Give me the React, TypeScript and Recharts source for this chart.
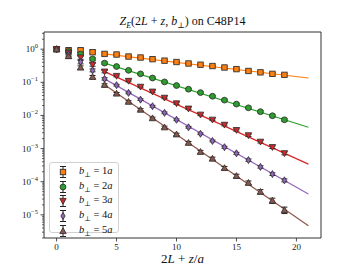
import React from 'react';
import { ComposedChart, Line, XAxis, YAxis, ErrorBar, ReferenceArea } from 'recharts';

const xs = [0, 1, 2, 3, 4, 5, 6, 7, 8, 9, 10, 11, 12, 13, 14, 15, 16, 17, 18, 19];

const b1 = [1.0, 0.93, 0.93, 0.81, 0.72, 0.69, 0.6, 0.56, 0.5, 0.45, 0.41, 0.37, 0.34, 0.31, 0.28, 0.25, 0.22, 0.2, 0.18, 0.168];
const b2 = [1.0, 0.86, 0.71, 0.51, 0.38, 0.3, 0.23, 0.18, 0.135, 0.103, 0.08, 0.062, 0.049, 0.038, 0.029, 0.022, 0.017, 0.013, 0.0098, 0.0074];
const b3 = [1.0, 0.78, 0.56, 0.34, 0.21, 0.155, 0.11, 0.073, 0.052, 0.034, 0.023, 0.016, 0.0105, 0.0074, 0.0052, 0.0036, 0.0025, 0.0016, 0.0011, 0.00072];
const b4 = [1.0, 0.7, 0.41, 0.23, 0.127, 0.082, 0.048, 0.03, 0.019, 0.012, 0.0074, 0.0044, 0.0028, 0.0017, 0.0011, 0.00072, 0.00045, 0.00028, 0.00017, 0.00011];
const b5 = [1.0, 0.62, 0.28, 0.146, 0.084, 0.046, 0.026, 0.015, 0.0083, 0.0044, 0.0027, 0.0015, 0.0008, 0.0005, 0.00026, 0.00015, 0.000093, 0.00005, 0.000027, 0.000014];

// relative errors
const relErr = [0.15, 0.15, 0.12, 0.1, 0.08, 0.06, 0.06, 0.06, 0.06, 0.06, 0.06, 0.06, 0.06, 0.06, 0.07, 0.07, 0.08, 0.08, 0.09, 0.1];
const relErrB5 = [0.15, 0.15, 0.12, 0.1, 0.08, 0.07, 0.07, 0.07, 0.07, 0.08, 0.08, 0.09, 0.1, 0.1, 0.11, 0.12, 0.13, 0.15, 0.18, 0.22];

// fit lines (straight in log space), from x=4 to x=21
const fitX = [4, 21];
const fit1 = [0.72, 0.135];
const fit2 = [0.38, 0.0044];
const fit3 = [0.21, 0.00034];
const fit4 = [0.127, 0.0000428];
const fit5 = [0.084, 0.0000047];

const xTicks = [0, 5, 10, 15, 20];
const yMajor = [1, 0.1, 0.01, 0.001, 0.0001, 0.00001];
const yExp = ['0', '\u22121', '\u22122', '\u22123', '\u22124', '\u22125'];

const colors = ['#ff7f0e', '#2ca02c', '#d62728', '#9467bd', '#8c564b'];
const shapes = ['square', 'circle', 'tridown', 'diamond', 'triup'];
const labels = ['1', '2', '3', '4', '5'];

const series = [b1, b2, b3, b4, b5];
const fits = [fit1, fit2, fit3, fit4, fit5];

const rows: any[] = xs.map((x, i) => {
  const r: any = { x };
  series.forEach((s, k) => {
    r['p' + k] = s[i];
    const re = k === 4 ? relErrB5[i] : relErr[i];
    r['e' + k] = s[i] * re;
  });
  return r;
});
rows.push({ x: 21 });
fitX.forEach((fx, j) => {
  const row = rows.find((r) => r.x === fx);
  fits.forEach((f, k) => {
    row['f' + k] = f[j];
  });
});

const minorTicks: number[] = [];
[1, 0.1, 0.01, 0.001, 0.0001, 0.00001, 0.000001].forEach((d) => {
  for (let m = 2; m <= 9; m++) {
    const v = d * m;
    if (v >= 2e-6 && v <= 3.3) minorTicks.push(v);
  }
});
const allYTicks = [...yMajor, ...minorTicks].sort((a, b) => a - b);

function Marker({ cx, cy, shape, color }: { cx: number; cy: number; shape: string; color: string }) {
  const st = { fill: color, stroke: '#333', strokeWidth: 0.9 };
  if (shape === 'square') return <rect x={cx - 2.7} y={cy - 2.7} width={5.4} height={5.4} {...st} />;
  if (shape === 'circle') return <circle cx={cx} cy={cy} r={2.9} {...st} />;
  if (shape === 'tridown')
    return <polygon points={`${cx - 3.2},${cy - 2.6} ${cx + 3.2},${cy - 2.6} ${cx},${cy + 3.2}`} {...st} />;
  if (shape === 'triup')
    return <polygon points={`${cx - 3.2},${cy + 2.6} ${cx + 3.2},${cy + 2.6} ${cx},${cy - 3.2}`} {...st} />;
  return <polygon points={`${cx},${cy - 3.5} ${cx + 2.1},${cy} ${cx},${cy + 3.5} ${cx - 2.1},${cy}`} {...st} />;
}

const YTick = (props: any) => {
  const { x, y, payload } = props;
  const v = payload.value;
  const mi = yMajor.findIndex((m) => Math.abs(m - v) / m < 1e-6);
  if (mi < 0) {
    return <line x1={x - 2} x2={x} y1={y} y2={y} stroke="#222" strokeWidth={0.7} />;
  }
  return (
    <g>
      <line x1={x - 3.5} x2={x} y1={y} y2={y} stroke="#222" strokeWidth={0.8} />
      <text x={x - 6} y={y + 3} textAnchor="end" fontSize={9} fontFamily="Liberation Serif" fill="#222">
        10
        <tspan dy={-4} fontSize={6.5}>{yExp[mi]}</tspan>
      </text>
    </g>
  );
};

const XTick = (props: any) => {
  const { x, y, payload } = props;
  return (
    <g>
      <line x1={x} x2={x} y1={y} y2={y + 3.5} stroke="#222" strokeWidth={0.8} />
      <text x={x} y={y + 12} textAnchor="middle" fontSize={9} fontFamily="Liberation Serif" fill="#222">
        {payload.value}
      </text>
    </g>
  );
};

function LegendIcon({ k }: { k: number }) {
  return (
    <svg width={12} height={14} style={{ display: 'block' }}>
      <line x1={6} x2={6} y1={1.5} y2={12.5} stroke="#222" strokeWidth={1} />
      <line x1={3} x2={9} y1={1.5} y2={1.5} stroke="#222" strokeWidth={1} />
      <line x1={3} x2={9} y1={12.5} y2={12.5} stroke="#222" strokeWidth={1} />
      <Marker cx={6} cy={7} shape={shapes[k]} color={colors[k]} />
    </svg>
  );
}

export default function App() {
  const serif = 'Liberation Serif, DejaVu Serif, serif';
  return (
    <div style={{ position: 'absolute', left: 0, top: 0, width: 357, height: 268, background: '#fff', fontFamily: serif }}>
      <div style={{ position: 'absolute', left: 44, width: 277, top: 14, textAlign: 'center', fontSize: 12, color: '#111', whiteSpace: 'nowrap' }}>
        <i>Z</i><sub style={{ fontSize: 8 }}><i>E</i></sub>(2<i>L</i> + <i>z</i>, <i>b</i><sub style={{ fontSize: 8 }}>⊥</sub>) on C48P14
      </div>
      <ComposedChart width={357} height={268} data={rows} margin={{ top: 32, right: 36, left: 0, bottom: 0 }}>
        <XAxis
          dataKey="x"
          type="number"
          domain={[-1.05, 22.05]}
          ticks={xTicks}
          allowDataOverflow
          height={30}
          tickLine={false}
          tickSize={0}
          tickMargin={0}
          axisLine={false}
          tick={<XTick />}
          interval={0}
        />
        <YAxis
          type="number"
          scale="log"
          domain={[2e-6, 3.3]}
          ticks={allYTicks}
          allowDataOverflow
          width={44}
          tickLine={false}
          tickSize={0}
          tickMargin={0}
          axisLine={false}
          tick={<YTick />}
          interval={0}
        />
        {fits.map((_, k) => (
          <Line
            key={'f' + k}
            dataKey={'f' + k}
            stroke={colors[k]}
            strokeWidth={1.2}
            dot={false}
            connectNulls
            isAnimationActive={false}
          />
        ))}
        {series.map((_, k) => (
          <Line
            key={'p' + k}
            dataKey={'p' + k}
            stroke="none"
            isAnimationActive={false}
            dot={(props: any) => {
              const { cx, cy, index } = props;
              if (cx == null || cy == null || props.value == null) return <g key={'d' + k + '-' + index} />;
              return (
                <g key={'d' + k + '-' + index}>
                  <Marker cx={cx} cy={cy} shape={shapes[k]} color={colors[k]} />
                </g>
              );
            }}
            activeDot={false}
          >
            <ErrorBar dataKey={'e' + k} width={3} stroke="#222" strokeWidth={1} direction="y" />
          </Line>
        ))}
        <ReferenceArea x1={-1.05} x2={22.05} y1={2e-6} y2={3.3} fill="none" stroke="#333" strokeWidth={1} ifOverflow="extendDomain" />
      </ComposedChart>
      <div
        style={{
          position: 'absolute',
          left: 49,
          top: 162,
          width: 70,
          height: 71,
          border: '1px solid #d0d0d0',
          borderRadius: 3,
          background: 'rgba(255,255,255,0.85)',
          boxSizing: 'border-box',
          paddingTop: 2,
        }}
      >
        {labels.map((l, k) => (
          <div key={l} style={{ display: 'flex', alignItems: 'center', height: 14.6, fontSize: 10.5, color: '#111' }}>
            <div style={{ marginLeft: 7 }}>
              <LegendIcon k={k} />
            </div>
            <div style={{ marginLeft: 10, whiteSpace: 'nowrap' }}>
              <i>b</i>
              <sub style={{ fontSize: 7 }}>⊥</sub> = {l}
              <i>a</i>
            </div>
          </div>
        ))}
      </div>
      <div style={{ position: 'absolute', left: 44, width: 277, top: 251, textAlign: 'center', fontSize: 13, lineHeight: '15px', color: '#111' }}>
        2<i>L</i> + <i>z</i>/<i>a</i>
      </div>
    </div>
  );
}
